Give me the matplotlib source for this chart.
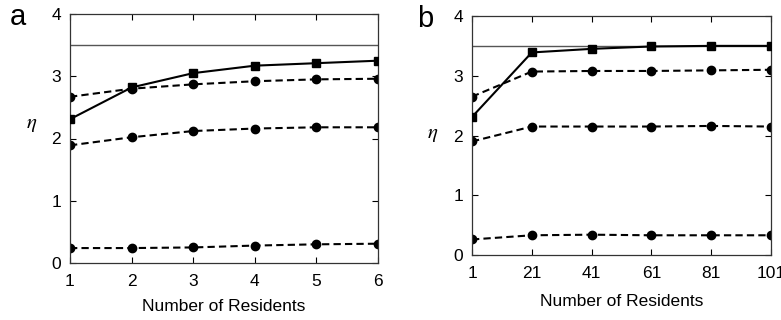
import matplotlib
matplotlib.use("Agg")
import matplotlib.pyplot as plt

plt.rcParams['font.family'] = ['Liberation Sans', 'DejaVu Sans']
plt.rcParams['mathtext.fontset'] = 'stix'

# Panel a
xa = [1, 2, 3, 4, 5, 6]
a_solid = [2.31, 2.82, 3.05, 3.17, 3.21, 3.25]
a_dash1 = [2.67, 2.80, 2.87, 2.92, 2.95, 2.96]
a_dash2 = [1.89, 2.02, 2.12, 2.16, 2.18, 2.18]
a_dash3 = [0.24, 0.24, 0.25, 0.28, 0.30, 0.31]

# Panel b
xb = [1, 21, 41, 61, 81, 101]
b_solid = [2.31, 3.39, 3.45, 3.49, 3.50, 3.50]
b_dash1 = [2.65, 3.07, 3.08, 3.08, 3.09, 3.10]
b_dash2 = [1.90, 2.15, 2.15, 2.15, 2.16, 2.15]
b_dash3 = [0.26, 0.33, 0.34, 0.33, 0.33, 0.33]

ref_line = 3.5
yticks = [0, 1, 2, 3, 4]

fig = plt.figure(figsize=(7.81, 3.2), dpi=100)
W, H = 781, 320

def make_ax(l, r, t, b):
    return fig.add_axes([l / W, 1 - b / H, (r - l) / W, (b - t) / H])

axa = make_ax(70, 378, 14, 263)
axb = make_ax(472, 771, 16, 255)

def draw(ax, x, solid, dashes, letter, lx, ly, etax, etay, xlabel_pad):
    ax.axhline(ref_line, color='#555555', lw=1.0, zorder=1)
    for d in dashes:
        ax.plot(x, d, ls=(0, (3.5, 2)), color='black', lw=1.5, marker='o',
                ms=6, zorder=2)
    ax.plot(x, solid, ls='-', color='black', lw=1.5, marker='s', ms=5.5,
            zorder=3)
    ax.set_xlim(x[0], x[-1])
    ax.set_ylim(0, 4)
    ax.set_xticks(x)
    ax.set_yticks(yticks)
    ax.tick_params(direction='in', top=True, right=True, length=4,
                   labelsize=12.5, width=0.8)
    ax.tick_params(axis='x', pad=8)
    ax.tick_params(axis='y', pad=6.5)
    for s in ax.spines.values():
        s.set_linewidth(0.9)
        s.set_color('#333333')
    ax.set_xlabel('Number of Residents', fontsize=12.5, labelpad=xlabel_pad)
    fig.text(lx / W, 1 - ly / H, letter, fontsize=21, ha='center',
             va='center')
    fig.text(etax / W, 1 - etay / H, r'$\eta$', fontsize=15, ha='center',
             va='center')

draw(axa, xa, a_solid, [a_dash1, a_dash2, a_dash3], 'a', 18, 17, 32, 124, 7)
draw(axb, xb, b_solid, [b_dash1, b_dash2, b_dash3], 'b', 425, 19, 433, 134, 9)

fig.savefig('out.png', dpi=100)
